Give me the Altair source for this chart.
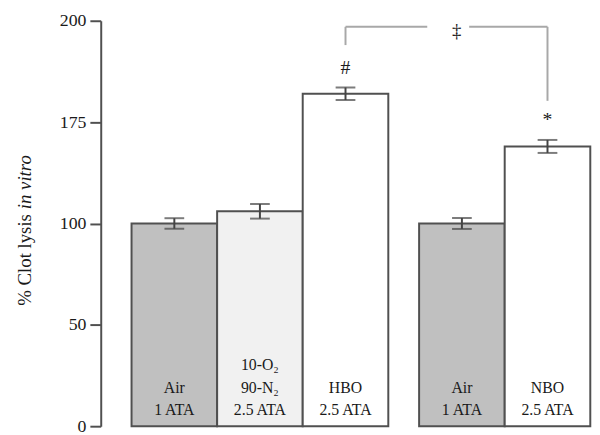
import altair as alt
import pandas as pd

# ---- data ----
gas = ["Air", "10-O2/90-N2", "HBO", "Air", "NBO"]
labels = ["Air\n1 ATA", "10-O\u2082\n90-N\u2082\n2.5 ATA", "HBO\n2.5 ATA", "Air\n1 ATA", "NBO\n2.5 ATA"]
group = [0, 0, 0, 1, 1]
means = [100, 106, 164, 100, 138]
sems = [2.6, 3.6, 3.1, 2.7, 3.2]
marks = ["", "", "#", "", "*"]

y_ticks = [0, 50, 100, 150, 200]
y_title_main = "% Clot lysis"
y_title_ital = "in vitro"

# significance bracket (HBO vs NBO), in data units
bracket_top = 197
bracket_left_end = 188
bracket_right_end = 160.5
bracket_symbol = "\u2021"

# ---- layout / style constants ----
LEAD = 0.36     # space before first bar (in bar widths)
GAP = 0.36      # gap between groups (in bar widths)
FONT = "Liberation Serif"
EDGE = "#505050"
LINE_H = 23

df = pd.DataFrame({
    "i": list(range(len(means))),
    "gas": gas,
    "label": labels,
    "group": group,
    "mean": means,
    "sem": sems,
    "mark": marks,
})
df["x0"] = LEAD + df["i"] + df["group"] * GAP
df["x1"] = df["x0"] + 1
df["xc"] = df["x0"] + 0.5
df["lo"] = df["mean"] - df["sem"]
df["hi"] = df["mean"] + df["sem"]

# one row per label line, k = line number counted from the bottom
rows = []
for xc, lab in zip(df["xc"], df["label"]):
    parts = lab.split("\n")
    n = len(parts)
    for j, p in enumerate(parts):
        rows.append({"xc": xc, "t": p, "k": n - 1 - j})
lines = pd.DataFrame(rows)

xs = alt.Scale(domain=[0, 5.74], nice=False, zero=False)
ys = alt.Scale(domain=[0, 200], nice=False)

yaxis = alt.Axis(
    values=y_ticks,
    labelExpr="datum.value == 150 ? '175' : datum.label",
    title=None, grid=False,
    domainColor=EDGE, domainWidth=2,
    tickColor=EDGE, tickWidth=2, tickSize=11,
    labelFont=FONT, labelFontSize=18, labelColor="#1a1a1a", labelPadding=4,
)

fill = alt.Fill("gas:N", legend=None,
                scale=alt.Scale(domain=["Air", "10-O2/90-N2", "HBO", "NBO"],
                                range=["#c0c0c0", "#f1f1f1", "#ffffff", "#ffffff"]))

base = alt.Chart(df)

bars = base.mark_bar(stroke=EDGE, strokeWidth=2).encode(
    x=alt.X("x0:Q", scale=xs, axis=None),
    x2="x1:Q",
    y=alt.Y("mean:Q", scale=ys, axis=yaxis),
    y2=alt.datum(0),
    fill=fill,
)

err = base.mark_rule(color="#444", strokeWidth=2).encode(
    x=alt.X("xc:Q", scale=xs), y=alt.Y("lo:Q", scale=ys), y2="hi:Q")
cap_lo = base.mark_tick(orient="horizontal", size=20, thickness=2, color="#444").encode(
    x=alt.X("xc:Q", scale=xs), y=alt.Y("lo:Q", scale=ys))
cap_hi = base.mark_tick(orient="horizontal", size=20, thickness=2, color="#444").encode(
    x=alt.X("xc:Q", scale=xs), y=alt.Y("hi:Q", scale=ys))

text_layers = []
for k in range(3):
    text_layers.append(
        alt.Chart(lines).transform_filter(f"datum.k == {k}").mark_text(
            font=FONT, fontSize=16, color="#1a1a1a", baseline="alphabetic",
            align="center", dy=-11 - LINE_H * k).encode(
            x=alt.X("xc:Q", scale=xs), y=alt.datum(0), text="t:N")
    )

sig = base.transform_filter("datum.mark != ''").mark_text(
    font=FONT, fontSize=20, color="#1a1a1a", baseline="middle", dy=-20).encode(
    x=alt.X("xc:Q", scale=xs), y=alt.Y("hi:Q", scale=ys), text="mark:N")

# bracket geometry derived from bar centres
xl = float(df.loc[2, "xc"])
xr = float(df.loc[4, "xc"])
mid = (xl + xr) / 2 + 0.02
half_gap = 0.245
seg = pd.DataFrame({
    "x": [xl, xr, xl, mid + half_gap],
    "x2": [xl, xr, mid - half_gap, xr],
    "y": [bracket_left_end, bracket_right_end, bracket_top, bracket_top],
    "y2": [bracket_top, bracket_top, bracket_top, bracket_top],
})
bracket = alt.Chart(seg).mark_rule(color="#a8a8a8", strokeWidth=2).encode(
    x=alt.X("x:Q", scale=xs), x2="x2:Q", y=alt.Y("y:Q", scale=ys), y2="y2:Q")
sym = alt.Chart(pd.DataFrame({"x": [mid + 0.1], "y": [bracket_top - 2.3], "t": [bracket_symbol]})).mark_text(
    font=FONT, fontSize=19, color="#1a1a1a", baseline="middle").encode(
    x=alt.X("x:Q", scale=xs), y=alt.Y("y:Q", scale=ys), text="t:N")

title1 = alt.Chart(pd.DataFrame({"t": [y_title_main]})).mark_text(
    font=FONT, fontSize=19, color="#1a1a1a", angle=270, align="right", baseline="middle").encode(
    text="t:N", x=alt.value(-77), y=alt.value(196))
title2 = alt.Chart(pd.DataFrame({"t": [y_title_ital]})).mark_text(
    font=FONT, fontSize=19, fontStyle="italic", color="#1a1a1a", angle=270, align="left",
    baseline="middle").encode(
    text="t:N", x=alt.value(-77), y=alt.value(191))

chart = alt.layer(bars, err, cap_lo, cap_hi, *text_layers, sig, bracket, sym, title1, title2).properties(
    width=498, height=411,
    padding={"left": 94, "top": 10, "right": 0, "bottom": 6},
    autosize=alt.AutoSizeParams(type="none"),
).configure_view(stroke=None)

chart.save("out.html", embed_options={"renderer": "svg", "actions": False})
